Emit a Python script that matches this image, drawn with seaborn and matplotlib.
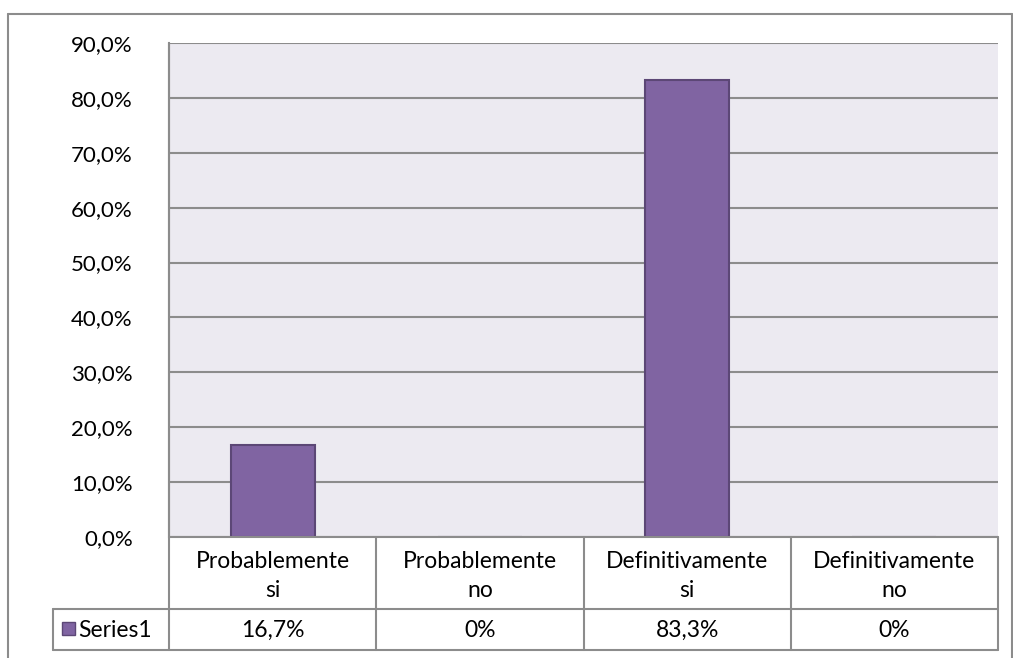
import numpy as np
import pandas as pd
import seaborn as sns
import matplotlib.pyplot as plt
from matplotlib.lines import Line2D
from matplotlib.patches import Rectangle

categories = ["Probablemente\nsi", "Probablemente\nno", "Definitivamente\nsi", "Definitivamente\nno"]
values = [0.167, 0.0, 0.833, 0.0]
value_labels = ["16,7%", "0%", "83,3%", "0%"]
series_name = "Series1"
yticks = [0.0, 0.1, 0.2, 0.3, 0.4, 0.5, 0.6, 0.7, 0.8, 0.9]

df = pd.DataFrame({"cat": categories, "val": values})

sns.set_theme(style="white")
plt.rcParams["font.family"] = ["Lato", "DejaVu Sans"]

W, H = 1013, 658
fig = plt.figure(figsize=(W / 100, H / 100), dpi=100)

# plot area in pixels
L, R, T, B = 169, 998, 43, 537
ax = fig.add_axes([L / W, 1 - B / H, (R - L) / W, (B - T) / H])
ax.set_facecolor("#ECEAF1")

sns.barplot(data=df, x="cat", y="val", ax=ax, color="#8064A2", width=0.405,
            saturation=1, edgecolor="#5C4776", linewidth=1.5, zorder=3)

ax.set_ylim(0, 0.9)
ax.set_xlim(-0.5, 3.5)
ax.set_yticks(yticks)
ax.set_yticklabels([f"{t*100:.1f}%".replace(".", ",") for t in yticks],
                   fontsize=16, color="black")
ax.tick_params(axis="y", length=0, pad=26)
ax.set_xticks([])
ax.set_xlabel("")
ax.set_ylabel("")
ax.yaxis.grid(True, color="#8C8C8C", linewidth=1.5, zorder=1)
ax.set_axisbelow(True)
for s in ["top", "right", "bottom"]:
    ax.spines[s].set_visible(False)
ax.spines["left"].set_color("#8C8C8C")
ax.spines["left"].set_linewidth(1.5)

# data table below the plot
TL, TB, RB = 53, 650, 609
tax = fig.add_axes([0, 0, 1, 1])
tax.set_xlim(0, W)
tax.set_ylim(H, 0)
tax.axis("off")
tax.patch.set_alpha(0)
lc = "#8C8C8C"
colw = (R - L) / len(categories)
# horizontal lines
tax.add_line(Line2D([L, R], [B, B], color=lc, lw=1.5))
tax.add_line(Line2D([TL, R], [RB, RB], color=lc, lw=1.5))
tax.add_line(Line2D([TL, R], [TB, TB], color=lc, lw=1.5))
# vertical lines
tax.add_line(Line2D([TL, TL], [RB, TB], color=lc, lw=1.5))
for i in range(len(categories) + 1):
    x = L + i * colw
    tax.add_line(Line2D([x, x], [B if i > 0 else T, TB], color=lc, lw=1.5))
for i, (c, v) in enumerate(zip(categories, value_labels)):
    cx = L + (i + 0.5) * colw
    tax.text(cx, (B + RB) / 2 + 3, c, ha="center", va="center", fontsize=16.5,
             linespacing=1.5, color="black")
    tax.text(cx, (RB + TB) / 2 + 1, v, ha="center", va="center", fontsize=16.5,
             color="black")
# legend key + series name
tax.add_patch(Rectangle((62, 622), 13, 13, facecolor="#8064A2", edgecolor="#5C4776", lw=1))
tax.text(78, (RB + TB) / 2 + 1, series_name, ha="left", va="center", fontsize=16.5,
         color="black")

# outer chart frame
tax.add_line(Line2D([8, 1012], [14, 14], color="#8C8C8C", lw=1.5))
tax.add_line(Line2D([8, 8], [14, H], color="#8C8C8C", lw=1.5))
tax.add_line(Line2D([1012, 1012], [14, H], color="#8C8C8C", lw=1.5))

fig.savefig("out.png", dpi=100)
